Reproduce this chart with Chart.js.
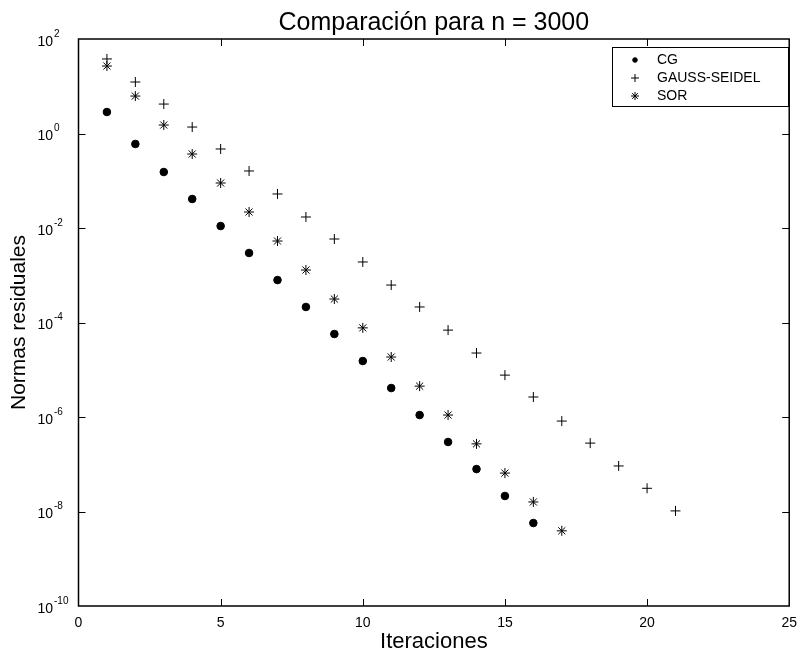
<!DOCTYPE html>
<html>
<head>
<meta charset="utf-8">
<script src="https://cdn.jsdelivr.net/npm/chart.js@4.4.0/dist/chart.umd.min.js"></script>
<style>
  html, body { margin: 0; padding: 0; background: #fff; }
</style>
</head>
<body>
<canvas id="grafico" width="806" height="655"></canvas>
<script>
// iteraciones (eje x)
const iterCG = [1, 2, 3, 4, 5, 6, 7, 8, 9, 10, 11, 12, 13, 14, 15, 16];
const iterGS = [1, 2, 3, 4, 5, 6, 7, 8, 9, 10, 11, 12, 13, 14, 15, 16, 17, 18, 19, 20, 21];
const iterSOR = [1, 2, 3, 4, 5, 6, 7, 8, 9, 10, 11, 12, 13, 14, 15, 16, 17];

// normas residuales
const normasCG = [2.85, 0.60, 0.153, 0.0411, 0.0110, 0.00296, 7.9e-4, 2.13e-4, 5.7e-5, 1.53e-5,
  4.1e-6, 1.10e-6, 2.96e-7, 7.9e-8, 2.13e-8, 5.7e-9];
const normasGS = [37.8, 12.3, 4.2, 1.37, 0.47, 0.161, 0.0525, 0.0171, 0.00585, 0.00191,
  6.2e-4, 2.13e-4, 6.9e-5, 2.26e-5, 7.7e-6, 2.65e-6, 8.2e-7, 2.8e-7, 9.2e-8, 3.1e-8, 1.03e-8];
const normasSOR = [26.8, 6.2, 1.51, 0.368, 0.0896, 0.0218, 0.0053, 0.00129, 3.14e-4, 7.7e-5,
  1.86e-5, 4.5e-6, 1.10e-6, 2.7e-7, 6.5e-8, 1.59e-8, 3.9e-9];

const etiquetas = ['CG', 'GAUSS-SEIDEL', 'SOR'];
const estilos = ['circle', 'cross', 'star'];
// exponentes de las marcas del eje y
const expY = [2, 0, -2, -4, -6, -8, -10];

const fuente = '"Liberation Sans", Arial, sans-serif';
Chart.defaults.font.family = fuente;
Chart.defaults.color = '#000';

function puntos(xs, ys) {
  return xs.map((v, i) => ({ x: v, y: ys[i] }));
}

function linea(ctx, x1, y1, x2, y2) {
  ctx.beginPath();
  ctx.moveTo(x1, y1);
  ctx.lineTo(x2, y2);
  ctx.stroke();
}

// marco, marcas, etiquetas 10^n y leyenda
const marco = {
  id: 'marco',
  afterDraw(chart) {
    const { ctx, chartArea: a, scales: { x, y } } = chart;
    ctx.save();
    ctx.strokeStyle = '#000';
    ctx.fillStyle = '#000';
    ctx.lineWidth = 1;

    x.ticks.forEach(t => {
      if (t.value <= x.min || t.value >= x.max) return;
      const px = Math.round(x.getPixelForValue(t.value)) + 0.5;
      linea(ctx, px, a.bottom, px, a.bottom - 7);
      linea(ctx, px, a.top, px, a.top + 7);
    });

    expY.forEach(e => {
      const py = y.getPixelForValue(Math.pow(10, e));
      if (e < 2 && e > -10) {
        const pr = Math.round(py) + 0.5;
        linea(ctx, a.left, pr, a.left + 7, pr);
        linea(ctx, a.right, pr, a.right - 7, pr);
      }
      ctx.font = '14px ' + fuente;
      ctx.textAlign = 'right';
      ctx.textBaseline = 'middle';
      ctx.fillText('10', 53, py + 3);
      ctx.font = '10px ' + fuente;
      ctx.textAlign = 'left';
      ctx.fillText(String(e), 54, py - 5);
    });

    ctx.lineWidth = 1.5;
    ctx.strokeRect(a.left, a.top, a.right - a.left, a.bottom - a.top);

    // leyenda
    const lx = 612, ly = 47, lw = 176, lh = 59;
    ctx.fillStyle = '#fff';
    ctx.fillRect(lx, ly, lw, lh);
    ctx.lineWidth = 1;
    ctx.strokeRect(lx + 0.5, ly + 0.5, lw, lh);
    ctx.font = '14px ' + fuente;
    ctx.textAlign = 'left';
    ctx.textBaseline = 'middle';
    chart.data.datasets.forEach((ds, i) => {
      const cy = ly + 13 + i * 18;
      ctx.fillStyle = '#000';
      ctx.strokeStyle = '#000';
      Chart.helpers.drawPoint(ctx, {
        pointStyle: ds.pointStyle,
        radius: ds.pointStyle === 'circle' ? 2.3 : 4,
        borderWidth: 1,
        rotation: 0
      }, 635, cy);
      ctx.fillStyle = '#000';
      ctx.fillText(ds.label, 657, cy);
    });
    ctx.restore();
  }
};

const datos = {
  datasets: [
    { label: etiquetas[0], data: puntos(iterCG, normasCG), pointStyle: estilos[0],
      pointRadius: 3.8, backgroundColor: '#000', borderColor: '#000', borderWidth: 1, showLine: false },
    { label: etiquetas[1], data: puntos(iterGS, normasGS), pointStyle: estilos[1],
      pointRadius: 5, backgroundColor: '#000', borderColor: '#000', borderWidth: 1, showLine: false },
    { label: etiquetas[2], data: puntos(iterSOR, normasSOR), pointStyle: estilos[2],
      pointRadius: 5, backgroundColor: '#000', borderColor: '#000', borderWidth: 1, showLine: false }
  ]
};

const grafico = new Chart(document.getElementById('grafico'), {
  type: 'scatter',
  data: datos,
  options: {
    responsive: false,
    animation: false,
    layout: { padding: { right: 10 } },
    plugins: {
      legend: { display: false },
      tooltip: { enabled: false },
      title: {
        display: true,
        fullSize: false,
        text: 'Comparación para n = 3000',
        font: { size: 25, weight: 'normal' },
        padding: { top: 8, bottom: 1 }
      }
    },
    scales: {
      x: {
        type: 'linear',
        min: 0,
        max: 25,
        grid: { display: false, drawTicks: false },
        border: { display: false },
        ticks: { stepSize: 5, font: { size: 14 }, padding: 9, maxRotation: 0 },
        title: { display: true, text: 'Iteraciones', font: { size: 22 }, padding: { top: 0, bottom: 0 } },
        afterFit(s) { s.height = 49; }
      },
      y: {
        type: 'logarithmic',
        min: 1e-10,
        max: 1e2,
        grid: { display: false, drawTicks: false },
        border: { display: false },
        ticks: { display: false },
        title: { display: true, text: 'Normas residuales', font: { size: 21 }, padding: { top: 7, bottom: 0 } },
        afterFit(s) { s.width = 78.5; }
      }
    }
  },
  plugins: [marco]
});
</script>
</body>
</html>
